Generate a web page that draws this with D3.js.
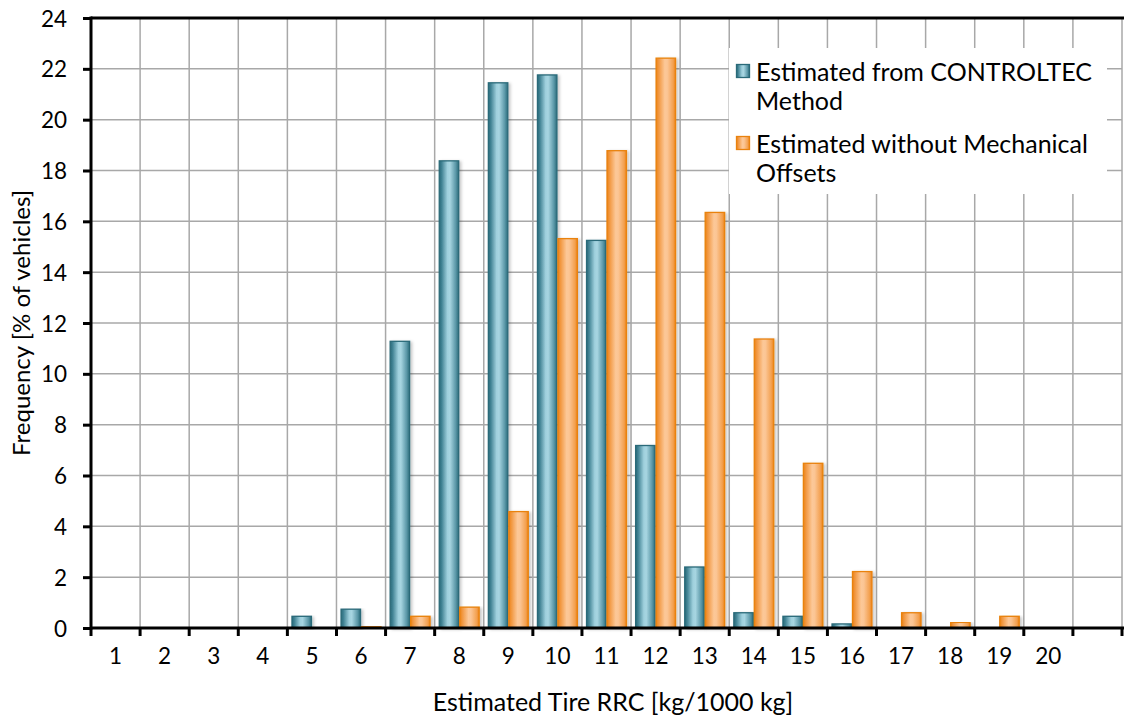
<!DOCTYPE html>
<html>
<head>
<meta charset="utf-8">
<script src="https://cdn.jsdelivr.net/npm/d3@7"></script>
<style>
  html, body { margin: 0; padding: 0; background: #ffffff; }
  svg { display: block; }
  text { font-family: "Lato", "Open Sans", sans-serif; fill: #000; }
</style>
</head>
<body>
<svg id="chart" width="1124" height="717"></svg>
<script>
// ---- data ----
const categories = ["1","2","3","4","5","6","7","8","9","10","11","12","13","14","15","16","17","18","19","20"];
const seriesNames = ["Estimated from CONTROLTEC Method", "Estimated without Mechanical Offsets"];
const controltec = [0, 0, 0, 0, 0.46, 0.74, 11.28, 18.38, 21.45, 21.76, 15.25, 7.18, 2.4, 0.6, 0.46, 0.16, 0, 0, 0, 0];
const noOffsets  = [0, 0, 0, 0, 0, 0.07, 0.46, 0.82, 4.58, 15.32, 18.78, 22.42, 16.35, 11.37, 6.48, 2.22, 0.6, 0.22, 0.46, 0];
const yTicks = [0, 2, 4, 6, 8, 10, 12, 14, 16, 18, 20, 22, 24];
const xTitle = "Estimated Tire RRC [kg/1000 kg]";
const yTitle = "Frequency [% of vehicles]";
const legendLines = [["Estimated from CONTROLTEC", "Method"], ["Estimated without Mechanical", "Offsets"]];

// ---- layout ----
const svg = d3.select("#chart");
const pLeft = 91, pRight = 1122, pTop = 18, pBottom = 628;

const domain = categories.concat([" "]);
const x = d3.scaleBand().domain(domain).range([pLeft, pRight]).padding(0);
const xs = d3.scaleBand().domain(seriesNames).range([0, x.bandwidth()]).paddingInner(0).paddingOuter(0.2);
const y = d3.scaleLinear().domain([0, 24]).range([pBottom, pTop]);

const defs = svg.append("defs");
const gBlue = defs.append("linearGradient").attr("id", "gBlue").attr("x1", "0").attr("x2", "1").attr("y1", "0").attr("y2", "0");
[[0, "#2b6b7a"], [0.12, "#3f8192"], [0.42, "#9fd0dd"], [0.55, "#a7d5e1"], [0.85, "#5a97a7"], [1, "#2b6b7a"]]
  .forEach(([o, c]) => gBlue.append("stop").attr("offset", o).attr("stop-color", c));
const gOr = defs.append("linearGradient").attr("id", "gOr").attr("x1", "0").attr("x2", "1").attr("y1", "0").attr("y2", "0");
[[0, "#ec8317"], [0.15, "#f29a45"], [0.45, "#fcc898"], [0.58, "#fbc594"], [0.88, "#f3a04f"], [1, "#ec8317"]]
  .forEach(([o, c]) => gOr.append("stop").attr("offset", o).attr("stop-color", c));
const shadow = defs.append("filter").attr("id", "shadow").attr("x", "-20%").attr("y", "-5%").attr("width", "150%").attr("height", "115%");
shadow.append("feDropShadow").attr("dx", 2).attr("dy", 1).attr("stdDeviation", 1.5).attr("flood-color", "#000").attr("flood-opacity", 0.22);

const fills = ["url(#gBlue)", "url(#gOr)"];
const strokes = ["#2a6a79", "#e9820e"];

// gridlines
const grid = svg.append("g");
grid.selectAll("line.h").data(yTicks.filter(t => t > 0 && t < 24)).join("line")
  .attr("x1", pLeft).attr("x2", pRight).attr("y1", d => y(d)).attr("y2", d => y(d))
  .attr("stroke", "#a8a8a8").attr("stroke-width", 1.5);
grid.selectAll("line.v").data(domain.slice(1).map(d => x(d)).concat([pRight])).join("line")
  .attr("x1", d => d).attr("x2", d => d).attr("y1", pTop).attr("y2", pBottom)
  .attr("stroke", "#a8a8a8").attr("stroke-width", 1.5);

// bars
const series = [controltec, noOffsets];
const barsG = svg.append("g");
series.forEach((vals, si) => {
  barsG.append("g").selectAll("rect")
    .data(categories.map((c, i) => ({ c, v: vals[i] })).filter(d => d.v > 0))
    .join("rect")
    .attr("x", d => x(d.c) + xs(seriesNames[si]) + 0.5)
    .attr("width", xs.bandwidth() - 1)
    .attr("y", d => y(d.v))
    .attr("height", d => pBottom - y(d.v))
    .attr("fill", fills[si])
    .attr("stroke", strokes[si])
    .attr("stroke-width", 1.3)
    .attr("filter", "url(#shadow)");
});

// legend
const lg = svg.append("g");
lg.append("rect").attr("x", 729).attr("y", 48).attr("width", 378).attr("height", 146).attr("fill", "#ffffff");
legendLines.forEach((lines, i) => {
  const by = 81 + i * 72;
  lg.append("rect").attr("x", 736.5).attr("y", by - 16.5).attr("width", 13).attr("height", 13)
    .attr("fill", fills[i]).attr("stroke", strokes[i]).attr("stroke-width", 1.3);
  lines.forEach((t, j) => {
    lg.append("text").attr("x", 756).attr("y", by + j * 29).attr("font-size", 25).text(t);
  });
});

// axes
const yAxis = svg.append("g").attr("transform", `translate(${pLeft},0)`)
  .call(d3.axisLeft(y).tickValues(yTicks).tickSize(8).tickPadding(16).tickFormat(d3.format("d")));
yAxis.select(".domain").remove();
yAxis.selectAll(".tick line").attr("stroke", "#000").attr("stroke-width", 3);
yAxis.selectAll(".tick text").attr("font-size", 22.5).attr("font-family", "Lato, sans-serif").attr("fill", "#000").attr("dy", "0.36em");

const xAxis = svg.append("g").attr("transform", `translate(0,${pBottom})`)
  .call(d3.axisBottom(x).tickValues(domain).tickSize(0).tickPadding(20));
xAxis.select(".domain").remove();
xAxis.selectAll(".tick line").remove();
xAxis.selectAll(".tick text").attr("font-size", 22.5).attr("font-family", "Lato, sans-serif").attr("fill", "#000").attr("dy", "0.7em");
// x ticks at band boundaries
svg.append("g").selectAll("line").data(domain.map(d => x(d)).concat([pRight])).join("line")
  .attr("x1", d => d).attr("x2", d => d).attr("y1", pBottom).attr("y2", pBottom + 8)
  .attr("stroke", "#000").attr("stroke-width", 3);

// axis lines
svg.append("line").attr("x1", pLeft).attr("x2", pLeft).attr("y1", pTop - 1.5).attr("y2", pBottom + 1.5).attr("stroke", "#000").attr("stroke-width", 3);
svg.append("line").attr("x1", pLeft).attr("x2", 1124).attr("y1", pBottom).attr("y2", pBottom).attr("stroke", "#000").attr("stroke-width", 3);
svg.append("line").attr("x1", pLeft).attr("x2", 1124).attr("y1", pTop).attr("y2", pTop).attr("stroke", "#000").attr("stroke-width", 3);

// titles
svg.append("text").attr("x", 613).attr("y", 711).attr("text-anchor", "middle").attr("font-size", 25).text(xTitle);
svg.append("text").attr("transform", `translate(30,${(pTop + pBottom) / 2}) rotate(-90)`).attr("text-anchor", "middle").attr("font-size", 24).text(yTitle);
</script>
</body>
</html>
